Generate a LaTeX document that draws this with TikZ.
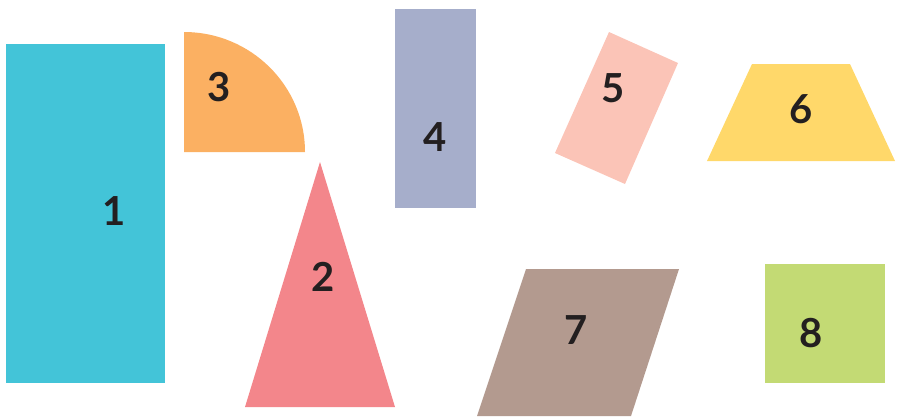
\documentclass[tikz,border=0pt]{standalone}
\usepackage{fontspec}
\setmainfont{Lato}
\usepackage{xcolor}
\usepackage{tikz}

\definecolor{shcyan}{HTML}{43C4D8}
\definecolor{shorange}{HTML}{FBB062}
\definecolor{shpink}{HTML}{F3868B}
\definecolor{shlavender}{HTML}{A6AECB}
\definecolor{shpeach}{HTML}{FBC4B7}
\definecolor{shyellow}{HTML}{FFD86A}
\definecolor{shtaupe}{HTML}{B39A8F}
\definecolor{shgreen}{HTML}{C3DA74}
\definecolor{numink}{HTML}{231F20}

\begin{document}
\begin{tikzpicture}[
    x=1pt, y=-1pt,
    num/.style={font=\fontsize{40}{40}\selectfont\bfseries,
                text=numink, inner sep=0pt}
]
\useasboundingbox (0,0) rectangle (899,416);

% ── Shapes ──
\fill[shcyan] (6,44) rectangle (165,383);
\fill[shorange] (184,152) -- (184,32) arc[start angle=90, end angle=0, x radius=121, y radius=-120] -- cycle;
\fill[shpink] (320,162) -- (395,407) -- (245,407) -- cycle;
\fill[shlavender] (395,9) rectangle (476,208);
\fill[shpeach] (609,32) -- (678,63) -- (625,184) -- (555,153) -- cycle;
\fill[shyellow] (752,64) -- (850,64) -- (895,161) -- (707,161) -- cycle;
\fill[shtaupe] (526,269) -- (679,269) -- (631,416) -- (477,416) -- cycle;
\fill[shgreen] (765,264) rectangle (885,383);

% ── Labels ──
\node[num] (n1) at (114,211) {1};
\node[num] (n2) at (323,277) {2};
\node[num] (n3) at (219,87) {3};
\node[num] (n4) at (435,137) {4};
\node[num] (n5) at (613,88) {5};
\node[num] (n6) at (801,109) {6};
\node[num] (n7) at (576,330) {7};
\node[num] (n8) at (811,333) {8};

\end{tikzpicture}
\end{document}
